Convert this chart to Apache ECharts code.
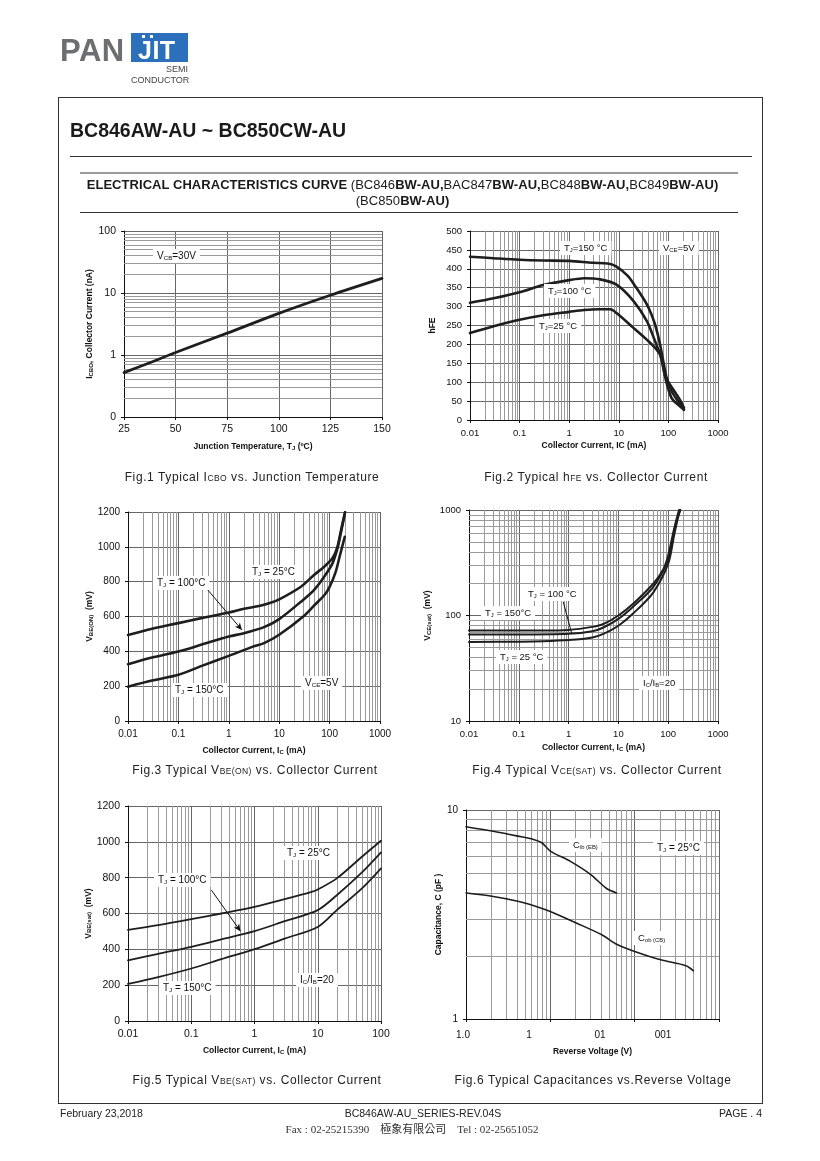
<!DOCTYPE html>
<html><head><meta charset="utf-8">
<script src="https://cdn.jsdelivr.net/npm/echarts@6/dist/echarts.min.js"></script>
<style>
html,body{margin:0;padding:0;background:#fff;}
#page{position:relative;width:820px;height:1161px;overflow:hidden;background:#fff;font-family:"Liberation Sans",Arial,sans-serif;color:#1a1a1a;}
.abs{position:absolute;white-space:nowrap;}
#chart{position:absolute;left:0;top:0;width:820px;height:1161px;}
.cap{position:absolute;width:360px;text-align:center;font-size:12px;letter-spacing:0.6px;color:#222;line-height:12px;}
.cap small{font-size:8.5px;letter-spacing:0.4px;}
.hl{position:absolute;height:0;}
</style></head><body>
<div id="page">
<div id="chart"></div>

<!-- logo -->
<div class="abs" style="left:60px;top:35px;font-size:31px;line-height:31px;font-weight:bold;color:#6d6e71;letter-spacing:0.5px;">PAN</div>
<div class="abs" style="left:131px;top:33px;width:57px;height:29px;background:#2c6fba;"></div>
<div class="abs" style="left:138px;top:38px;font-size:25px;line-height:25px;font-weight:bold;color:#fff;letter-spacing:0.5px;">JIT</div>
<div class="abs" style="left:142px;top:35px;width:3px;height:3px;background:#fff;"></div>
<div class="abs" style="left:150px;top:35px;width:3px;height:3px;background:#fff;"></div>
<div class="abs" style="left:131px;top:65px;width:57px;text-align:right;font-size:9px;line-height:9px;color:#444;">SEMI</div>
<div class="abs" style="left:131px;top:76px;width:58px;text-align:right;font-size:9px;line-height:9px;color:#444;">CONDUCTOR</div>

<!-- page frame -->
<div class="abs" style="left:58px;top:97px;width:703px;height:1005px;border:1px solid #333;"></div>

<div class="abs" style="left:70px;top:121px;font-size:19.5px;line-height:19px;font-weight:bold;color:#1a1a1a;">BC846AW-AU ~ BC850CW-AU</div>
<div class="hl" style="left:70px;top:156px;width:682px;border-top:1px solid #333;"></div>
<div class="hl" style="left:80px;top:172px;width:658px;border-top:2px solid #9a9a9a;"></div>
<div class="abs" style="left:80px;top:178px;width:645px;text-align:center;font-size:13px;line-height:13px;font-weight:bold;letter-spacing:0.05px;color:#1a1a1a;">ELECTRICAL CHARACTERISTICS CURVE <span style="font-weight:normal">(BC846</span>BW-AU,<span style="font-weight:normal">BAC847</span>BW-AU,<span style="font-weight:normal">BC848</span>BW-AU,<span style="font-weight:normal">BC849</span>BW-AU)</div>
<div class="abs" style="left:80px;top:194px;width:645px;text-align:center;font-size:13px;line-height:13px;font-weight:bold;letter-spacing:0.05px;color:#1a1a1a;"><span style="font-weight:normal">(BC850</span>BW-AU)</div>
<div class="hl" style="left:80px;top:212px;width:658px;border-top:1px solid #333;"></div>

<!-- captions -->
<div class="cap" style="left:72px;top:471px;">Fig.1 Typical I<small>CBO</small> vs. Junction Temperature</div>
<div class="cap" style="left:416px;top:471px;">Fig.2 Typical h<small>FE</small> vs. Collector Current</div>
<div class="cap" style="left:75px;top:764px;">Fig.3 Typical V<small>BE(ON)</small> vs. Collector Current</div>
<div class="cap" style="left:417px;top:764px;">Fig.4 Typical V<small>CE(SAT)</small> vs. Collector Current</div>
<div class="cap" style="left:77px;top:1074px;">Fig.5 Typical V<small>BE(SAT)</small> vs. Collector Current</div>
<div class="cap" style="left:413px;top:1074px;">Fig.6 Typical Capacitances vs.Reverse Voltage</div>

<!-- footer -->
<div class="abs" style="left:60px;top:1108px;font-size:10.5px;line-height:11px;color:#222;">February 23,2018</div>
<div class="abs" style="left:323px;top:1108px;width:200px;text-align:center;font-size:10.5px;line-height:11px;color:#222;">BC846AW-AU_SERIES-REV.04S</div>
<div class="abs" style="left:662px;top:1108px;width:100px;text-align:right;font-size:10.5px;line-height:11px;color:#222;">PAGE . 4</div>
<div class="abs" style="left:212px;top:1123px;width:400px;text-align:center;font-family:'Liberation Serif','Noto Sans CJK TC',serif;font-size:11px;line-height:12px;color:#333;white-space:pre;">Fax : 02-25215390    極象有限公司    Tel : 02-25651052</div>
</div>

<script>
// ===================== DATA =====================
// Fig.1  ICBO vs junction temperature (VCB = 30 V)
const fig1TempC  = [25, 37.5, 50, 75, 100, 125, 150];
const fig1IcboNA = [0.52, 0.75, 1.1, 2.25, 4.7, 9.2, 17.2];
const fig1YTickLabels = ['0', '1', '10', '100'];          // decades 0.1 .. 100

// Fig.2  hFE vs collector current (VCE = 5 V)
const fig2IcT150  = [0.01, 0.03, 0.1, 0.3, 1, 3, 6, 9, 15, 20, 37, 54, 68, 79, 92, 116, 158, 206];
const fig2HfeT150 = [432, 428, 424, 422, 421, 416, 414, 406, 382, 360, 305, 252, 199, 155, 112, 76, 49, 27];
const fig2IcT100  = [0.01, 0.03, 0.1, 0.3, 1, 2, 4.2, 9, 20, 37, 54, 68, 79, 92, 116, 158, 206];
const fig2HfeT100 = [310, 322, 338, 357, 370, 375, 372, 358, 314, 261, 208, 173, 138, 98, 58, 40, 27];
const fig2IcT25   = [0.01, 0.03, 0.1, 0.3, 1, 2, 4, 6.7, 9, 20, 37, 58, 73, 84, 98, 126, 170, 206];
const fig2HfeT25  = [230, 248, 265, 277, 286, 291, 293, 293, 283, 243, 212, 186, 164, 120, 102, 80, 54, 32];
const icTickLabels = ['0.01', '0.1', '1', '10', '100', '1000'];   // decades 0.01 .. 1000

// Fig.3  VBE(ON) vs collector current
const fig3IcT25   = [0.01, 0.03, 0.1, 0.3, 1, 2, 4, 7, 10, 27, 49, 78, 114, 143, 166, 203];
const fig3VbeT25  = [494, 530, 562, 592, 623, 645, 660, 680, 698, 771, 838, 886, 934, 1000, 1087, 1200];
const fig3IcT100  = [0.01, 0.03, 0.1, 0.3, 1, 2, 5, 10, 27, 49, 78, 114, 143, 170, 200];
const fig3VbeT100 = [326, 364, 399, 440, 485, 504, 539, 585, 685, 752, 828, 905, 991, 1090, 1190];
const fig3IcT150  = [0.01, 0.03, 0.1, 0.3, 1, 3, 5, 10, 30, 50, 80, 100, 130, 160, 200];
const fig3VbeT150 = [197, 232, 265, 318, 374, 427, 447, 495, 600, 665, 725, 770, 850, 950, 1058];

// Fig.4  VCE(sat) vs collector current (IC/IB = 20)
const fig4IcT150  = [0.01, 0.1, 0.3, 1, 3, 5, 10, 20, 50, 80, 100, 127, 150, 165];
const fig4VceT150 = [72, 72, 72, 73, 78, 83, 100, 130, 200, 275, 370, 620, 850, 1000];
const fig4IcT100  = [0.01, 0.1, 1, 3, 5, 10, 20, 50, 100, 127, 150, 172];
const fig4VceT100 = [66, 66, 67, 71, 77, 93, 122, 186, 340, 580, 800, 1000];
const fig4IcT25   = [0.01, 0.1, 0.3, 1, 3, 5, 10, 20, 50, 100, 130, 155, 175];
const fig4VceT25  = [56, 56.5, 57, 58.5, 62, 67, 80, 105, 165, 310, 560, 820, 1000];
const fig4YTickLabels = ['10', '100', '1000'];

// Fig.5  VBE(sat) vs collector current (IC/IB = 20)
const fig5IcT25   = [0.01, 0.03, 0.1, 0.3, 1, 3, 8, 10, 20, 50, 100];
const fig5VbeT25  = [509, 535, 568, 600, 637, 680, 721, 734, 796, 917, 1006];
const fig5IcT100  = [0.01, 0.03, 0.1, 0.3, 1, 3, 10, 20, 50, 100];
const fig5VbeT100 = [339, 375, 414, 455, 501, 557, 619, 702, 829, 941];
const fig5IcT150  = [0.01, 0.03, 0.1, 0.3, 1, 3, 10, 20, 50, 100];
const fig5VbeT150 = [207, 245, 293, 345, 401, 460, 525, 619, 740, 852];

// Fig.6  capacitance vs reverse voltage
const fig6VrCib = [0.1, 0.203, 0.412, 0.631, 0.792, 1.0, 1.71, 3.01, 4.65, 6.1];
const fig6Cib   = [8.32, 7.93, 7.5, 7.23, 6.97, 6.36, 5.69, 4.91, 4.21, 4.01];
const fig6VrCob = [0.1, 0.203, 0.412, 0.736, 1.0, 2.03, 4.07, 6.1, 10.2, 20.4, 40.6, 49.8];
const fig6Cob   = [4.01, 3.87, 3.66, 3.42, 3.27, 2.88, 2.53, 2.28, 2.10, 1.92, 1.80, 1.70];
const fig6YTickLabels = ['1', '10'];
const fig6XTickLabels = ['1.0', '1', '01', '001'];   // as printed on the original sheet

// ===================== CHART =====================
const FONT = '"Liberation Sans", Arial, sans-serif';
const CURVE = '#1e1e1e';
const MAJOR = '#666666';
const MINOR = '#9a9a9a';

const grids = [
  {left:124, top:231, width:258, height:186},
  {left:470, top:231, width:248, height:189},
  {left:128, top:512, width:252, height:209},
  {left:469, top:510, width:249, height:211},
  {left:128, top:806, width:253, height:215},
  {left:466, top:810, width:253, height:209}
];

function logFmt(labels, minExp) {
  return v => { const e = Math.round(Math.log10(v)); const s = labels[e - minExp]; return s === undefined ? '' : s; };
}
function minorLog(minExp, maxExp) {
  const out = [];
  for (let e = minExp; e < maxExp; e++) for (let k = 2; k <= 9; k++) out.push(+(k * Math.pow(10, e)).toPrecision(6));
  return out;
}
const plainFmt = v => String(Math.round(v));
const richSub = (fs) => ({ s: { fontSize: fs, fontWeight: 'bold', fontFamily: FONT, color: '#111', verticalAlign: 'bottom' } });

function axisBase(fs) {
  return {
    axisLine: { show: true, onZero: false, lineStyle: { color: '#111', width: 1 } },
    axisTick: { show: true, inside: false, length: 3, lineStyle: { color: '#111' } },
    axisLabel: { color: '#111', fontSize: fs, fontFamily: FONT, formatter: plainFmt },
    splitLine: { show: true, lineStyle: { color: MAJOR, width: 1 } },
    nameLocation: 'middle',
    nameTextStyle: { fontFamily: FONT, fontWeight: 'bold', fontSize: 8.5, color: '#111', rich: richSub(6) }
  };
}
function logAxis(idx, min, max, fs, labels, minExp, extra) {
  return Object.assign(axisBase(fs), { type: 'log', logBase: 10, min, max, gridIndex: idx }, extra || {},
    { axisLabel: { color: '#111', fontSize: fs, fontFamily: FONT, show: !!labels, formatter: labels ? logFmt(labels, minExp) : undefined } });
}
function valAxis(idx, min, max, interval, fs, extra) {
  return Object.assign(axisBase(fs), { type: 'value', min, max, interval, gridIndex: idx }, extra || {});
}

function gridLines(idx, vLines, hLines, x0, y0) {
  return {
    type: 'line', xAxisIndex: idx, yAxisIndex: idx, data: [[x0, y0]], symbol: 'none', silent: true, z: 1,
    lineStyle: { opacity: 0 },
    markLine: {
      silent: true, symbol: ['none', 'none'], label: { show: false }, emphasis: { disabled: true },
      lineStyle: { color: MINOR, width: 1, type: 'solid' },
      data: [...vLines.map(v => ({ xAxis: v })), ...hLines.map(v => ({ yAxis: v }))]
    }
  };
}
function curve(idx, xs, ys, width) {
  return {
    type: 'line', xAxisIndex: idx, yAxisIndex: idx, data: xs.map((x, i) => [x, ys[i]]),
    symbol: 'none', smooth: 0.3, silent: true, z: 5,
    lineStyle: { color: CURVE, width, cap: 'round', join: 'round' }
  };
}
function pointer(idx, from, to, arrow) {
  return {
    type: 'line', xAxisIndex: idx, yAxisIndex: idx, data: [from], symbol: 'none', silent: true, z: 6,
    lineStyle: { opacity: 0 },
    markLine: {
      silent: true, symbol: ['none', arrow ? 'arrow' : 'none'], symbolSize: [5, 7], label: { show: false },
      emphasis: { disabled: true }, lineStyle: { color: '#111', width: 1, type: 'solid' },
      data: [[{ coord: from }, { coord: to }]]
    }
  };
}
function note(x, y, text, fs) {
  return {
    type: 'text', x, y, z: 50,
    style: {
      text, fill: '#111', fontSize: fs, fontFamily: FONT, align: 'left', verticalAlign: 'middle',
      backgroundColor: '#fff', padding: [2, 4, 2, 4],
      rich: { s: { fontSize: fs * 0.62, fontFamily: FONT, fill: '#111', verticalAlign: 'bottom' } }
    }
  };
}
function tickText(x, y, text, fs) {
  return { type: 'text', x, y, z: 50, style: { text, fill: '#111', fontSize: fs, fontFamily: FONT, align: 'center', verticalAlign: 'middle' } };
}

const xAxes = [
  valAxis(0, 25, 150, 25, 10.5, { name: 'Junction Temperature, T{s|J} (ºC)', nameGap: 25, axisLabel: { color: '#111', fontSize: 10.5, fontFamily: FONT, margin: 7, formatter: plainFmt } }),
  logAxis(1, 0.01, 1000, 9.5, icTickLabels, -2, { name: 'Collector Current, IC (mA)', nameGap: 21 }),
  logAxis(2, 0.01, 1000, 10, icTickLabels, -2, { name: 'Collector Current, I{s|C} (mA)', nameGap: 25 }),
  logAxis(3, 0.01, 1000, 9.5, icTickLabels, -2, { name: 'Collector Current, I{s|C} (mA)', nameGap: 22 }),
  logAxis(4, 0.01, 100, 10.5, icTickLabels, -2, { name: 'Collector Current, I{s|C} (mA)', nameGap: 25 }),
  logAxis(5, 0.1, 100, 10, null, -1, { name: 'Reverse Voltage (V)', nameGap: 28 })
];
const yAxes = [
  logAxis(0, 0.1, 100, 10.5, fig1YTickLabels, -1, { name: 'I{s|CBO}, Collector Current (nA)', nameGap: 28 }),
  valAxis(1, 0, 500, 50, 9.5, { name: 'hFE', nameGap: 33 }),
  valAxis(2, 0, 1200, 200, 10, { name: 'V{s|BE(ON)}  (mV)', nameGap: 33 }),
  logAxis(3, 10, 1000, 9.5, fig4YTickLabels, 1, { name: 'V{s|CE(sat)}  (mV)', nameGap: 37 }),
  valAxis(4, 0, 1200, 200, 10.5, { name: 'V{s|BE(sat)}  (mV)', nameGap: 35 }),
  logAxis(5, 1, 10, 10, fig6YTickLabels, 0, { name: 'Capacitance, C (pF )', nameGap: 21 })
];

const series = [
  // minor grid lines
  gridLines(0, [], minorLog(-1, 2), 25, 0.1),
  gridLines(1, minorLog(-2, 3), [], 0.01, 0),
  gridLines(2, minorLog(-2, 3), [], 0.01, 0),
  gridLines(3, minorLog(-2, 3), minorLog(1, 3), 0.01, 10),
  gridLines(4, minorLog(-2, 2), [], 0.01, 0),
  gridLines(5, minorLog(-1, 2), minorLog(0, 1), 0.1, 1),
  // curves
  curve(0, fig1TempC, fig1IcboNA, 2.8),
  curve(1, fig2IcT150, fig2HfeT150, 2.6),
  curve(1, fig2IcT100, fig2HfeT100, 2.6),
  curve(1, fig2IcT25, fig2HfeT25, 2.6),
  curve(2, fig3IcT25, fig3VbeT25, 2.6),
  curve(2, fig3IcT100, fig3VbeT100, 2.6),
  curve(2, fig3IcT150, fig3VbeT150, 2.6),
  curve(3, fig4IcT150, fig4VceT150, 2),
  curve(3, fig4IcT100, fig4VceT100, 2),
  curve(3, fig4IcT25, fig4VceT25, 2),
  curve(4, fig5IcT25, fig5VbeT25, 1.8),
  curve(4, fig5IcT100, fig5VbeT100, 1.8),
  curve(4, fig5IcT150, fig5VbeT150, 1.8),
  curve(5, fig6VrCib, fig6Cib, 1.6),
  curve(5, fig6VrCob, fig6Cob, 1.6),
  // pointer lines
  pointer(2, [0.313, 782], [1.82, 523], true),
  pointer(3, [0.78, 135], [1.15, 68], false),
  pointer(4, [0.209, 730], [0.6, 501], true)
];

const graphics = [
  note(153, 256, 'V{s|CB}=30V', 10),
  note(560, 248, 'T{s|J}=150 °C', 9.5),
  note(659, 248, 'V{s|CE}=5V', 9.5),
  note(544, 291, 'T{s|J}=100 °C', 9.5),
  note(535, 326, 'T{s|J}=25 °C', 9.5),
  note(248, 572, 'T{s|J} = 25°C', 10),
  note(153, 583, 'T{s|J} = 100°C', 10),
  note(171, 690, 'T{s|J} = 150°C', 10),
  note(301, 683, 'V{s|CE}=5V', 10),
  note(524, 594, 'T{s|J} = 100 °C', 9.5),
  note(481, 613, 'T{s|J} = 150°C', 9.5),
  note(496, 657, 'T{s|J} = 25 °C', 9.5),
  note(639, 683, 'I{s|C}/I{s|B}=20', 9.5),
  note(283, 853, 'T{s|J} = 25°C', 10),
  note(154, 880, 'T{s|J} = 100°C', 10),
  note(159, 988, 'T{s|J} = 150°C', 10),
  note(296, 980, 'I{s|C}/I{s|B}=20', 10),
  note(569, 845, 'C{s|ib (EB)}', 9.5),
  note(653, 848, 'T{s|J} = 25°C', 10),
  note(634, 938, 'C{s|ob (CB)}', 9.5)
];
const fig6TickX = [463, 529, 600, 663];
fig6XTickLabels.forEach((t, i) => graphics.push(tickText(fig6TickX[i], 1035, t, 10)));

const chart = echarts.init(document.getElementById('chart'), null, { renderer: 'canvas' });
chart.setOption({
  animation: false,
  backgroundColor: 'transparent',
  grid: grids.map(g => Object.assign({ containLabel: false, show: false }, g)),
  xAxis: xAxes,
  yAxis: yAxes,
  series,
  graphic: { elements: graphics }
});
</script>
</body></html>
